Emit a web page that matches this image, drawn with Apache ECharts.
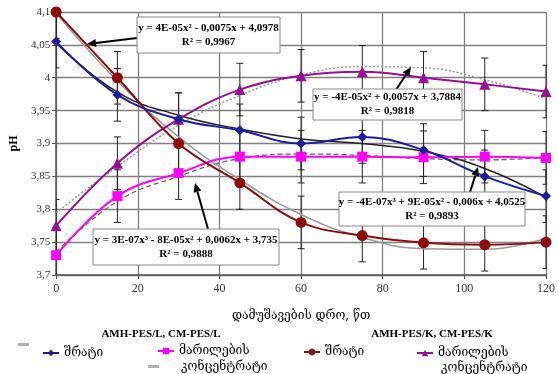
<!DOCTYPE html>
<html><head><meta charset="utf-8">
<script src="https://cdn.jsdelivr.net/npm/echarts@6/dist/echarts.min.js"></script>
<style>html,body{margin:0;padding:0;background:#fff}#c{width:558px;height:374px}</style>
</head><body><div id="c"></div>
<script>
// ---- data ----
const times = [0, 15, 30, 45, 60, 75, 90, 105, 120];
const serumL = [4.055, 3.974, 3.937, 3.92, 3.90, 3.91, 3.89, 3.85, 3.82];
const saltL  = [3.73, 3.82, 3.855, 3.88, 3.88, 3.88, 3.879, 3.88, 3.878];
const serumK = [4.1, 4.0, 3.9, 3.84, 3.78, 3.76, 3.749, 3.746, 3.75];
const saltK  = [3.775, 3.87, 3.937, 3.982, 4.003, 4.009, 4.0, 3.99, 3.979];
const errSerumL = [0.04, 0.04, 0.04, 0.04, 0.04, 0.04, 0.04, 0.04, 0.04];
const errSaltL  = [0.04, 0.04, 0.04, 0.04, 0.04, 0.04, 0.04, 0.04, 0.04];
const errSerumK = [0.04, 0.04, 0.04, 0.04, 0.04, 0.04, 0.04, 0.04, 0.04];
const errSaltK  = [0.04, 0.04, 0.04, 0.04, 0.04, 0.04, 0.04, 0.04, 0.04];
const trendSerumL = [4.053, 3.978, 3.943, 3.922, 3.907, 3.90, 3.888, 3.862, 3.818];
const trendSaltL  = [3.735, 3.812, 3.85, 3.877, 3.884, 3.882, 3.877, 3.875, 3.879];
const trendSerumK = [4.098, 3.995, 3.91, 3.845, 3.792, 3.757, 3.74, 3.739, 3.756];
const trendSaltK  = [3.795, 3.865, 3.928, 3.973, 4.004, 4.017, 4.015, 3.997, 3.968];
const xTickLabels = ['0', '20', '40', '60', '80', '100', '120'];
const yTickLabels = ['3,7', '3,75', '3,8', '3,85', '3,9', '3,95', '4', '4,05', '4,1'];
const xTitle = 'დამუშავების დრო, წთ';
const yTitle = 'pH';
const groupL = 'AMH-PES/L, CM-PES/L';
const groupK = 'AMH-PES/K, CM-PES/K';
const nameSerum = 'შრატი';
const nameSalt1 = 'მარილების';
const nameSalt2 = 'კონცენტრატი';
const eqSerumK = ['y = 4E-05x² - 0,0075x + 4,0978', 'R² = 0,9967'];
const eqSaltK  = ['y = -4E-05x² + 0,0057x + 3,7884', 'R² = 0,9818'];
const eqSerumL = ['y = -4E-07x³ + 9E-05x² - 0,006x + 4,0525', 'R² = 0,9893'];
const eqSaltL  = ['y = 3E-07x³ - 8E-05x² + 0,0062x + 3,735', 'R² = 0,9888'];

const SERIF = '"Liberation Serif","Times New Roman",serif';
const GEO = '"DejaVu Serif","DejaVu Sans",serif';

const pairs = (ys) => times.map((t, i) => [t, ys[i]]);
const errData = (ys, es) => times.map((t, i) => [t, ys[i], es[i]]);

function errSeries(ys, es) {
  return {
    type: 'custom', z: 1, silent: true, clip: true,
    data: errData(ys, es),
    renderItem(params, api) {
      const x = api.value(0), y = api.value(1), e = api.value(2);
      const top = api.coord([x, y + e]), bot = api.coord([x, y - e]);
      const cs = params.coordSys;
      const yt = Math.max(top[1], cs.y), yb = Math.min(bot[1], cs.y + cs.height);
      const st = { stroke: '#222', lineWidth: 1 };
      const ch = [{ type: 'line', shape: { x1: top[0], y1: yt, x2: top[0], y2: yb }, style: st }];
      if (top[1] >= cs.y - 0.5) ch.push({ type: 'line', shape: { x1: top[0] - 3.5, y1: top[1], x2: top[0] + 3.5, y2: top[1] }, style: st });
      if (bot[1] <= cs.y + cs.height + 0.5) ch.push({ type: 'line', shape: { x1: bot[0] - 3.5, y1: bot[1], x2: bot[0] + 3.5, y2: bot[1] }, style: st });
      return { type: 'group', children: ch };
    }
  };
}

function trend(name, ys, color, type, width) {
  return {
    name, type: 'line', data: pairs(ys), smooth: 0.45, showSymbol: false, symbol: 'none', z: 2,
    lineStyle: { color, width, type }, itemStyle: { color }, silent: true
  };
}
function dataSeries(name, ys, color, symbol, size) {
  return {
    name, type: 'line', data: pairs(ys), smooth: 0.4, symbol, symbolSize: size, z: 3,
    lineStyle: { color, width: 2 }, itemStyle: { color }
  };
}

function arrow(x1, y1, x2, y2) {
  const a = Math.atan2(y2 - y1, x2 - x1), L = 9, W = 4;
  const bx = x2 - L * Math.cos(a), by = y2 - L * Math.sin(a);
  const px = -Math.sin(a) * W, py = Math.cos(a) * W;
  return [
    { type: 'line', z: 100, shape: { x1, y1, x2: bx, y2: by }, style: { stroke: '#000', lineWidth: 2 } },
    { type: 'polygon', z: 100, shape: { points: [[x2, y2], [bx + px, by + py], [bx - px, by - py]] }, style: { fill: '#000' } }
  ];
}
function box(x, y, w, h, lines) {
  return [
    { type: 'rect', z: 100, shape: { x, y, width: w, height: h }, style: { fill: '#fff', stroke: '#888', lineWidth: 1 } },
    { type: 'text', z: 101, x: x + w / 2, y: y + h / 2, style: { text: lines.join('\n'), font: 'bold 11px ' + SERIF, fill: '#000', align: 'center', verticalAlign: 'middle', lineHeight: 14 } }
  ];
}

const legendNames = {
  'sL': nameSerum, 'mL': nameSalt1, 'sK': nameSerum, 'mK': nameSalt1, 'tA': '', 'tB': ''
};
function leg(name, left, top) {
  return {
    data: [name], left, top, padding: 0, itemWidth: 16, itemHeight: 8, itemGap: 0,
    selectedMode: false,
    formatter: (n) => legendNames[n],
    textStyle: { fontFamily: GEO, fontSize: 12, color: '#000', padding: [0, 0, 0, 0] }
  };
}
function legTrend(name, left, top) {
  return {
    data: [{ name, icon: 'rect', itemStyle: { color: '#b0b0b0' } }], left, top, padding: 0,
    itemWidth: 11, itemHeight: 3, itemGap: 0, selectedMode: false,
    formatter: () => '', textStyle: { fontSize: 1 }
  };
}

const chart = echarts.init(document.getElementById('c'), null, { renderer: 'canvas' });
chart.setOption({
  animation: false,
  backgroundColor: '#fff',
  grid: { left: 56, right: 5, top: 12, bottom: 99, containLabel: false },
  xAxis: {
    type: 'value', min: 0, max: 120, interval: 20,
    name: xTitle, nameLocation: 'middle', nameGap: 35,
    nameTextStyle: { fontFamily: GEO, fontSize: 12, color: '#000' },
    axisLine: { lineStyle: { color: '#555', width: 1.5 } },
    axisTick: { show: true, length: 4, lineStyle: { color: '#555' } },
    axisLabel: { formatter: (v) => xTickLabels[Math.round(v / 20)], fontFamily: SERIF, fontSize: 12, color: '#333', margin: 8 },
    splitLine: { show: true, lineStyle: { color: '#808080', width: 1.3 } }
  },
  yAxis: {
    type: 'value', min: 3.7, max: 4.1, interval: 0.05,
    name: yTitle, nameLocation: 'middle', nameGap: 32, nameRotate: 90,
    nameTextStyle: { fontFamily: SERIF, fontSize: 12, fontWeight: 'bold', color: '#000' },
    axisLine: { show: true, lineStyle: { color: '#555', width: 1.5 } },
    axisTick: { show: true, length: 4, lineStyle: { color: '#555' } },
    axisLabel: { formatter: (v) => yTickLabels[Math.round((v - 3.7) / 0.05)], fontFamily: SERIF, fontSize: 11, color: '#333', margin: 6 },
    splitLine: { show: true, lineStyle: { color: '#808080', width: 1.3 } }
  },
  legend: [
    legTrend('tA', 18, 343), leg('sL', 42, 347), legTrend('tB', 148, 365), leg('mL', 157, 345),
    leg('sK', 303, 346), leg('mK', 416, 347)
  ],
  series: [
    errSeries(serumL, errSerumL), errSeries(saltL, errSaltL),
    errSeries(serumK, errSerumK), errSeries(saltK, errSaltK),
    trend('tA', trendSerumK, '#9a9a9a', 'solid', 1.5),
    trend('tSaltL', trendSaltL, '#666', [5, 3], 1.3),
    trend('tB', trendSaltK, '#999', [2, 2], 1.5),
    trend('tSerumL', trendSerumL, '#222', 'solid', 1.5),
    dataSeries('mL', saltL, '#ff00ff', 'rect', 10),
    dataSeries('mK', saltK, '#951095', 'triangle', 11),
    dataSeries('sK', serumK, '#8e0b0b', 'circle', 11),
    dataSeries('sL', serumL, '#1c1ca0', 'diamond', 10)
  ],
  graphic: [
    { type: 'text', z: 100, x: 161, y: 334, style: { text: groupL, font: 'bold 11px ' + SERIF, fill: '#000', align: 'center', verticalAlign: 'middle' } },
    { type: 'text', z: 100, x: 432, y: 334, style: { text: groupK, font: 'bold 11px ' + SERIF, fill: '#000', align: 'center', verticalAlign: 'middle' } },
    { type: 'text', z: 100, x: 181, y: 367, style: { text: nameSalt2, font: '12px ' + GEO, fill: '#000', align: 'left', verticalAlign: 'middle' } },
    { type: 'text', z: 100, x: 441, y: 368, style: { text: nameSalt2, font: '12px ' + GEO, fill: '#000', align: 'left', verticalAlign: 'middle' } },
    ...arrow(137, 38, 87, 44),
    ...box(137, 17, 143, 36, eqSerumK),
    ...arrow(392, 96, 411, 67),
    ...box(313, 89, 149, 31, eqSaltK),
    ...arrow(470, 192, 478, 167),
    ...box(339, 192, 186, 34, eqSerumL),
    ...arrow(208, 229, 195, 183),
    ...box(93, 229, 186, 36, eqSaltL)
  ]
});
</script></body></html>
